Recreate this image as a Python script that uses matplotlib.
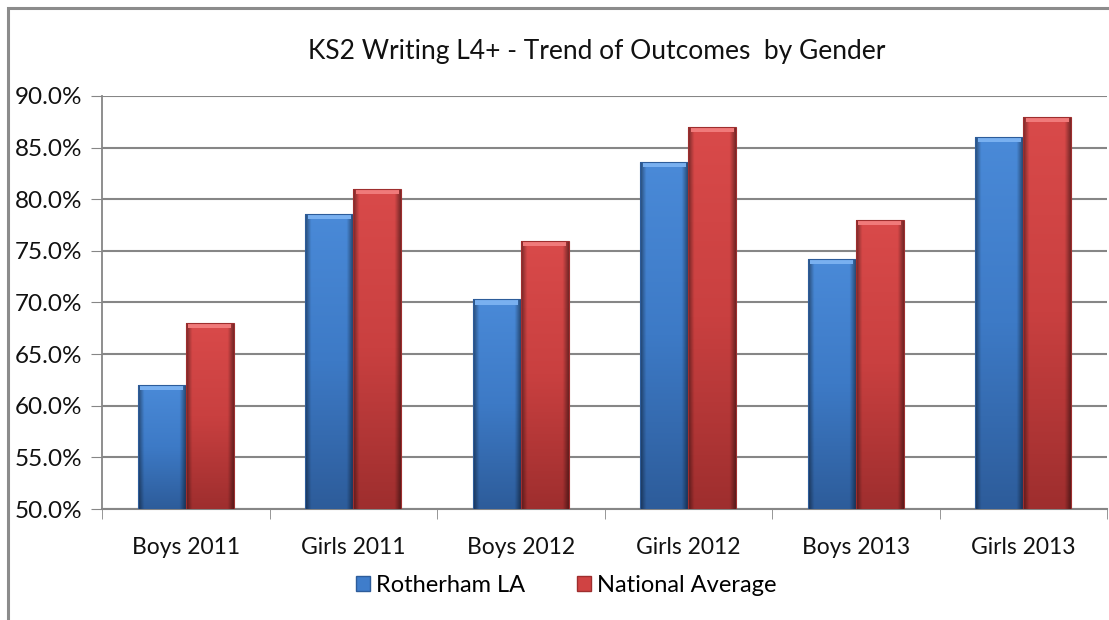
import numpy as np
import matplotlib
matplotlib.use("Agg")
import matplotlib.pyplot as plt
from matplotlib.patches import Patch, Rectangle
from matplotlib.colors import LinearSegmentedColormap

categories = ["Boys 2011", "Girls 2011", "Boys 2012", "Girls 2012", "Boys 2013", "Girls 2013"]
rotherham = [62.0, 78.6, 70.3, 83.6, 74.2, 86.0]
national = [68.0, 81.0, 76.0, 87.0, 78.0, 88.0]
series_names = ["Rotherham LA", "National Average"]
title = "KS2 Writing L4+ - Trend of Outcomes  by Gender"

plt.rcParams['font.family'] = ['Lato', 'DejaVu Sans']

fig = plt.figure(figsize=(11.09, 6.2), dpi=100)
W, H = 1109, 620
# outer chart border (partially clipped)
fig.patches.append(Rectangle((8 / W, -0.1), 1.2, 1 - 8 / H + 0.1, transform=fig.transFigure,
                             fill=False, edgecolor="#8c8c8c", linewidth=2.2))

ax = fig.add_axes([102 / W, 1 - 509 / H, (1107 - 102) / W, (509 - 96) / H])
ax.set_ylim(50, 90)
ax.set_xlim(-0.5, len(categories) - 0.5)

x = np.arange(len(categories))
bw = 0.286
blue_bars = ax.bar(x - bw / 2, [v - 50 for v in rotherham], bw, bottom=50, color="#3f7dcb", zorder=3)
red_bars = ax.bar(x + bw / 2, [v - 50 for v in national], bw, bottom=50, color="#d04343", zorder=3)

def shade(bars, top, mid, bot, bevel):
    cm = LinearSegmentedColormap.from_list("g", [bot, mid, top])
    grad = np.linspace(0, 1, 256).reshape(-1, 1)
    hgrad = np.linspace(0, 1, 64)
    for b in bars:
        x0, y0 = b.get_x(), b.get_y()
        w, h = b.get_width(), b.get_height()
        im = ax.imshow(grad, cmap=cm, origin="lower", aspect="auto",
                       extent=(x0, x0 + w, y0, y0 + h), zorder=3.1, interpolation="bilinear")
        im.set_clip_path(b)
        side = np.abs(hgrad - 0.5).reshape(1, -1) * 2
        alpha = np.clip((side - 0.75) / 0.25, 0, 1) * 0.45
        rgba = np.zeros((1, 64, 4))
        rgba[..., 3] = alpha
        im2 = ax.imshow(rgba, origin="lower", aspect="auto",
                        extent=(x0, x0 + w, y0, y0 + h), zorder=3.2, interpolation="bilinear")
        im2.set_clip_path(b)
        bh = 0.5
        ax.add_patch(Rectangle((x0 + w * 0.05, y0 + h - bh), w * 0.90, bh, facecolor=bevel,
                               edgecolor="none", zorder=3.3))
        ax.add_patch(Rectangle((x0, y0), w, h, fill=False, edgecolor=bot, linewidth=0.8, zorder=3.4))

ax.set_xlim(-0.5, len(categories) - 0.5)
ax.set_ylim(50, 90)
shade(blue_bars, "#4a8ad8", "#3d7ac6", "#2d5c9a", "#79b0f0")
shade(red_bars, "#d94a4a", "#c94040", "#9e2e2e", "#f07a7a")

ax.set_yticks(np.arange(50, 90.1, 5))
ax.set_yticklabels([f"{v:.1f}%" for v in np.arange(50, 90.1, 5)], fontsize=17.5, color="#111111")
ax.yaxis.grid(True, color="#868686", linewidth=1.5)
ax.set_axisbelow(True)
ax.set_xticks(x)
ax.set_xticklabels(categories, fontsize=16.5, color="#111111")
ax.set_xticks(np.arange(-0.5, len(categories)), minor=True)
ax.tick_params(axis="x", which="major", length=0, pad=20)
ax.tick_params(axis="x", which="minor", length=7, color="#868686")
ax.tick_params(axis="y", length=8, color="#868686", pad=6)
for s in ["top", "right"]:
    ax.spines[s].set_visible(False)
ax.spines["left"].set_color("#868686")
ax.spines["bottom"].set_color("#868686")
ax.spines["left"].set_linewidth(1.3)
ax.spines["bottom"].set_linewidth(1.5)

fig.text(597 / W, 1 - 52 / H, title, ha="center", va="center", fontsize=19, color="#111111")

handles = [Patch(facecolor="#3f7dcb", edgecolor="#2d5c9a"), Patch(facecolor="#d04343", edgecolor="#9e2e2e")]
fig.legend(handles, series_names, loc="center", bbox_to_anchor=(566 / W, 1 - 585 / H), ncol=2,
           frameon=False, fontsize=17, handlelength=0.6, handleheight=0.6, handletextpad=0.25,
           columnspacing=2.2)

fig.savefig("out.png", dpi=100)
